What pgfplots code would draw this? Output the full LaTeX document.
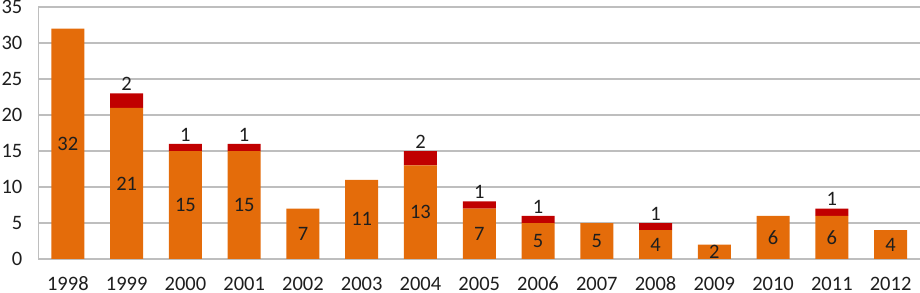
\documentclass[border=0pt]{standalone}
\usepackage{fontspec}
\setmainfont{Carlito}
\usepackage{pgfplots}
\pgfplotsset{compat=1.18}
\definecolor{orng}{RGB}{228,108,10}
\definecolor{dred}{RGB}{192,0,0}
\definecolor{gridc}{RGB}{190,190,190}
\definecolor{txt}{RGB}{30,30,30}
\pgfplotsset{
  base/.style={
    scale only axis, width=881.5bp, height=252bp,
    xmin=-0.5, xmax=14.5, ymin=0, ymax=35,
    xtick={0,...,14},
    xticklabels={1998,1999,2000,2001,2002,2003,2004,2005,2006,2007,2008,2009,2010,2011,2012},
    ytick={0,5,...,35},
    /pgf/number format/assume math mode=true,
    major tick length=0pt,
    tick label style={font=\fontsize{20.5bp}{22bp}\selectfont, text=txt, inner sep=0pt},
    yticklabel style={anchor=east, xshift=-16bp},
    xticklabel style={anchor=north, yshift=-17.5bp},
  }
}
\begin{document}
\begin{tikzpicture}
\begin{axis}[base, name=ax,
  ybar stacked, bar width=33bp,
  ymajorgrids, grid style={gridc, line width=1.3bp},
  axis x line*=bottom, axis y line*=left,
  axis line style={gridc, line width=1.3bp},
]
\addplot[fill=orng, draw=none] coordinates {
(0,32) (1,21) (2,15) (3,15) (4,7) (5,11) (6,13) (7,7) (8,5) (9,5) (10,4) (11,2) (12,6) (13,6) (14,4)};
\addplot[fill=dred, draw=none] coordinates {
(0,0) (1,2) (2,1) (3,1) (4,0) (5,0) (6,2) (7,1) (8,1) (9,0) (10,1) (11,0) (12,0) (13,1) (14,0)};
\end{axis}
\begin{axis}[base, hide axis]
\addplot[only marks, mark=none, nodes near coords, point meta=explicit symbolic,
  nodes near coords style={anchor=center, font=\fontsize{20.5bp}{22bp}\selectfont, text=txt}] coordinates {
(0,16)[32] (1,10.5)[21] (2,7.5)[15] (3,7.5)[15] (4,3.5)[7] (5,5.5)[11] (6,6.5)[13] (7,3.5)[7] (8,2.5)[5] (9,2.5)[5] (10,2)[4] (11,1)[2] (12,3)[6] (13,3)[6] (14,2)[4]};
\addplot[only marks, mark=none, nodes near coords, point meta=explicit symbolic,
  nodes near coords style={anchor=south, inner sep=2.5bp, font=\fontsize{20.5bp}{22bp}\selectfont, text=txt}] coordinates {
(1,23)[2] (2,16)[1] (3,16)[1] (6,15)[2] (7,8)[1] (8,6)[1] (10,5)[1] (13,7)[1]};
\end{axis}
\pgfresetboundingbox
\path ([xshift=-38.5bp,yshift=-34bp]ax.south west) rectangle ([yshift=7bp]ax.north east);
\end{tikzpicture}
\end{document}
